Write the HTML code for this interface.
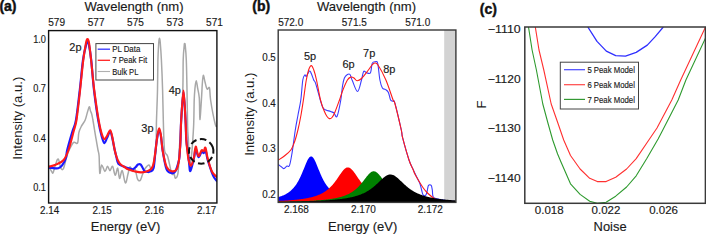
<!DOCTYPE html>
<html><head><meta charset="utf-8"><style>
html,body{margin:0;padding:0;background:#fff;width:706px;height:234px;overflow:hidden}
svg{display:block;font-family:"Liberation Sans", sans-serif}
</style></head><body>
<svg width="706" height="234" viewBox="0 0 706 234">
<text x="-0.6" y="10.9" font-size="14" text-anchor="start" font-weight="bold" fill="#111" stroke="#111" stroke-width="0.45" >(a)</text>
<text x="134" y="11.2" font-size="13" text-anchor="middle" font-weight="normal" fill="#1a1a1a" textLength="99" lengthAdjust="spacingAndGlyphs" stroke="#1a1a1a" stroke-width="0.15" >Wavelength (nm)</text>
<text x="56.6" y="26.1" font-size="10" text-anchor="middle" font-weight="normal" fill="#1a1a1a" textLength="16.8" lengthAdjust="spacingAndGlyphs" stroke="#1a1a1a" stroke-width="0.15" >579</text>
<text x="96.1" y="26.1" font-size="10" text-anchor="middle" font-weight="normal" fill="#1a1a1a" textLength="16.8" lengthAdjust="spacingAndGlyphs" stroke="#1a1a1a" stroke-width="0.15" >577</text>
<text x="135.5" y="26.1" font-size="10" text-anchor="middle" font-weight="normal" fill="#1a1a1a" textLength="16.8" lengthAdjust="spacingAndGlyphs" stroke="#1a1a1a" stroke-width="0.15" >575</text>
<text x="175" y="26.1" font-size="10" text-anchor="middle" font-weight="normal" fill="#1a1a1a" textLength="16.8" lengthAdjust="spacingAndGlyphs" stroke="#1a1a1a" stroke-width="0.15" >573</text>
<text x="214.5" y="26.1" font-size="10" text-anchor="middle" font-weight="normal" fill="#1a1a1a" textLength="16.8" lengthAdjust="spacingAndGlyphs" stroke="#1a1a1a" stroke-width="0.15" >571</text>
<text x="46" y="42.6" font-size="10" text-anchor="end" font-weight="normal" fill="#1a1a1a" textLength="12.8" lengthAdjust="spacingAndGlyphs" stroke="#1a1a1a" stroke-width="0.15" >1.0</text>
<text x="46" y="92.19999999999999" font-size="10" text-anchor="end" font-weight="normal" fill="#1a1a1a" textLength="12.8" lengthAdjust="spacingAndGlyphs" stroke="#1a1a1a" stroke-width="0.15" >0.7</text>
<text x="46" y="141.79999999999998" font-size="10" text-anchor="end" font-weight="normal" fill="#1a1a1a" textLength="12.8" lengthAdjust="spacingAndGlyphs" stroke="#1a1a1a" stroke-width="0.15" >0.4</text>
<text x="46" y="191.4" font-size="10" text-anchor="end" font-weight="normal" fill="#1a1a1a" textLength="12.8" lengthAdjust="spacingAndGlyphs" stroke="#1a1a1a" stroke-width="0.15" >0.1</text>
<text x="49.7" y="213.8" font-size="10" text-anchor="middle" font-weight="normal" fill="#1a1a1a" textLength="19.2" lengthAdjust="spacingAndGlyphs" stroke="#1a1a1a" stroke-width="0.15" >2.14</text>
<text x="102.2" y="213.8" font-size="10" text-anchor="middle" font-weight="normal" fill="#1a1a1a" textLength="19.2" lengthAdjust="spacingAndGlyphs" stroke="#1a1a1a" stroke-width="0.15" >2.15</text>
<text x="154.3" y="213.8" font-size="10" text-anchor="middle" font-weight="normal" fill="#1a1a1a" textLength="19.2" lengthAdjust="spacingAndGlyphs" stroke="#1a1a1a" stroke-width="0.15" >2.16</text>
<text x="206.7" y="213.8" font-size="10" text-anchor="middle" font-weight="normal" fill="#1a1a1a" textLength="19.2" lengthAdjust="spacingAndGlyphs" stroke="#1a1a1a" stroke-width="0.15" >2.17</text>
<text x="125.6" y="231.3" font-size="13" text-anchor="middle" font-weight="normal" fill="#1a1a1a" textLength="69.5" lengthAdjust="spacingAndGlyphs" stroke="#1a1a1a" stroke-width="0.15" >Energy (eV)</text>
<text x="0" y="0" font-size="13" text-anchor="middle" fill="#1a1a1a" textLength="83" lengthAdjust="spacingAndGlyphs" transform="translate(22.2,118.2) rotate(-90)">Intensity (a.u.)</text>
<clipPath id="ca"><rect x="48.6" y="30.6" width="168.3" height="172.4"/></clipPath>
<g clip-path="url(#ca)" fill="none" stroke-linejoin="round" stroke-linecap="round">
<path d="M48.5,165.4 C49.0,166.5 51.0,170.6 51.8,171.8 C52.6,173.0 52.5,173.9 53.1,172.6 C53.8,171.3 54.8,166.4 55.7,164.1 C56.6,161.8 57.4,158.3 58.3,159.0 C59.1,159.7 59.9,166.4 60.8,168.0 C61.6,169.6 62.4,170.4 63.4,168.6 C64.4,166.8 65.6,160.1 66.6,157.0 C67.6,153.9 68.0,152.4 69.2,150.0 C70.4,147.6 72.2,143.6 73.6,142.4 C75.0,141.2 76.6,144.7 77.5,143.1 C78.4,141.5 78.2,135.6 78.8,132.8 C79.4,130.0 80.2,128.5 81.3,126.4 C82.4,124.3 84.2,122.4 85.2,120.0 C86.2,117.6 86.8,114.2 87.5,112.0 C88.2,109.8 88.8,106.9 89.3,106.7 C89.8,106.5 90.1,109.8 90.5,111.0 C90.9,112.2 91.2,112.2 91.6,113.7 C92.0,115.2 92.2,115.8 92.9,120.0 C93.7,124.2 95.2,134.2 96.1,139.2 C96.9,144.2 97.5,147.2 98.0,150.0 C98.5,152.8 98.8,152.1 99.1,156.0 C99.4,159.9 99.4,171.8 99.8,173.3 C100.2,174.8 100.8,165.3 101.7,165.0 C102.6,164.7 103.9,171.2 104.9,171.4 C105.9,171.6 106.7,166.4 107.5,166.3 C108.3,166.2 109.2,170.7 110.0,170.7 C110.8,170.7 111.7,165.6 112.6,166.3 C113.5,167.1 114.3,174.9 115.2,175.2 C116.1,175.5 117.0,167.7 117.7,168.2 C118.4,168.7 118.8,178.0 119.6,178.4 C120.3,178.8 121.2,169.9 122.2,170.7 C123.2,171.4 124.4,182.3 125.4,182.9 C126.4,183.5 127.2,176.7 128.0,174.0 C128.8,171.3 129.2,167.3 129.9,166.9 C130.7,166.5 131.7,171.1 132.5,171.4 C133.3,171.7 134.2,167.5 135.0,168.8 C135.8,170.1 136.7,177.2 137.6,179.1 C138.5,181.0 139.3,181.2 140.2,180.4 C141.0,179.6 141.8,176.0 142.7,174.0 C143.5,172.0 144.2,169.7 145.3,168.2 C146.4,166.7 148.0,164.7 149.1,165.0 C150.2,165.3 150.9,171.0 151.7,170.1 C152.5,169.2 153.3,163.2 154.0,159.8 C154.7,156.5 155.6,156.6 156.0,150.0 C156.4,143.4 156.2,130.0 156.5,120.0 C156.8,110.0 157.3,100.0 157.5,90.0 C157.7,80.0 157.7,68.0 157.9,60.0 C158.1,52.0 158.6,45.6 158.8,42.0 C159.1,38.4 159.2,38.3 159.4,38.3 C159.6,38.3 159.9,38.4 160.2,42.0 C160.5,45.6 161.0,52.0 161.4,60.0 C161.8,68.0 162.3,80.0 162.6,90.0 C162.9,100.0 163.0,110.0 163.3,120.0 C163.6,130.0 163.8,143.9 164.5,150.0 C165.2,156.1 166.5,152.6 167.7,156.4 C168.9,160.2 170.5,170.1 171.6,173.1 C172.7,176.1 173.6,173.6 174.2,174.4 C174.8,175.2 174.8,178.4 175.4,178.2 C176.0,178.0 177.3,177.8 178.0,173.1 C178.7,168.4 179.0,154.8 179.3,150.0 C179.6,145.2 179.3,148.7 179.6,144.5 C179.9,140.3 180.5,134.1 181.0,125.0 C181.5,115.9 182.4,100.8 182.8,90.0 C183.2,79.2 183.0,67.3 183.2,60.0 C183.4,52.7 183.9,48.8 184.2,46.0 C184.4,43.2 184.5,43.5 184.7,43.5 C184.9,43.5 185.0,43.2 185.3,46.0 C185.6,48.8 186.0,52.7 186.3,60.0 C186.6,67.3 186.8,79.0 187.0,90.0 C187.2,101.0 187.4,117.7 187.6,126.0 C187.8,134.3 188.2,135.2 188.4,140.0 C188.6,144.8 188.7,151.2 189.0,155.0 C189.3,158.8 189.6,162.5 190.0,163.0 C190.4,163.5 190.8,160.5 191.2,158.0 C191.6,155.5 191.8,153.7 192.2,148.0 C192.6,142.3 193.4,132.0 193.7,124.0 C194.0,116.0 194.0,106.0 194.2,100.0 C194.4,94.0 194.7,91.2 195.0,88.0 C195.3,84.8 195.9,80.8 196.3,80.8 C196.7,80.8 197.1,85.1 197.6,88.0 C198.1,90.9 198.9,92.8 199.3,98.0 C199.7,103.2 199.6,119.2 199.9,119.5 C200.2,119.8 201.0,105.9 201.4,100.0 C201.8,94.1 202.0,88.1 202.3,84.0 C202.6,79.9 202.9,75.7 203.3,75.4 C203.8,75.1 204.4,79.7 205.0,82.0 C205.6,84.3 206.3,88.1 207.1,89.1 C207.8,90.1 208.9,86.1 209.5,87.9 C210.1,89.7 209.7,94.0 210.6,100.0 C211.5,106.0 214.1,119.7 215.2,124.0 C216.2,128.3 216.6,125.7 216.9,126.0" stroke="#a8a8a8" stroke-width="1.5"/>
<path d="M48.5,167.5 C49.1,167.6 50.4,167.9 52.0,168.0 C53.6,168.1 56.6,168.6 58.3,168.2 C60.0,167.8 60.8,167.2 62.1,165.4 C63.4,163.7 65.2,160.3 66.0,157.7 C66.8,155.1 66.1,154.4 67.2,150.0 C68.3,145.6 70.9,136.5 72.4,131.5 C73.9,126.5 74.8,126.9 76.0,120.0 C77.2,113.1 78.6,100.0 79.8,90.0 C81.0,80.0 81.9,67.7 83.0,60.0 C84.1,52.3 85.5,47.2 86.3,44.0 C87.1,40.8 87.2,41.0 87.6,41.0 C88.0,41.0 88.2,40.8 88.8,44.0 C89.4,47.2 90.3,52.3 91.2,60.0 C92.1,67.7 92.8,80.0 94.0,90.0 C95.2,100.0 96.9,112.3 98.2,120.0 C99.5,127.7 100.6,132.2 101.6,136.0 C102.6,139.8 103.5,142.8 104.4,143.1 C105.3,143.4 106.0,139.9 107.0,138.0 C108.0,136.1 109.3,131.3 110.2,131.5 C111.1,131.7 111.8,135.9 112.5,139.0 C113.2,142.1 114.0,147.0 114.7,150.0 C115.4,153.0 115.8,154.7 116.4,157.0 C117.0,159.3 117.0,162.0 118.4,163.7 C119.8,165.3 122.7,166.1 124.8,166.9 C126.9,167.8 129.8,168.4 131.2,168.8 C132.6,169.2 132.2,169.7 133.0,169.4 C133.8,169.1 135.0,167.8 135.8,167.0 C136.6,166.2 137.2,165.0 138.0,164.6 C138.8,164.2 139.8,163.9 140.5,164.4 C141.2,164.9 141.8,166.4 142.5,167.5 C143.2,168.6 143.6,170.2 144.5,171.0 C145.4,171.8 146.8,171.9 147.8,172.0 C148.8,172.1 149.4,172.1 150.4,171.4 C151.4,170.7 152.7,171.6 153.6,168.0 C154.5,164.4 154.9,155.3 155.6,150.0 C156.2,144.7 156.9,139.3 157.5,136.0 C158.1,132.7 158.6,130.0 159.2,130.0 C159.8,130.0 160.3,132.7 160.9,136.0 C161.5,139.3 161.7,144.5 162.6,150.0 C163.5,155.5 165.0,165.3 166.5,169.2 C168.0,173.0 170.1,172.8 171.6,173.1 C173.1,173.4 174.2,173.4 175.4,171.2 C176.6,169.0 178.2,163.5 179.0,160.0 C179.8,156.5 179.7,153.3 179.9,150.0 C180.2,146.7 180.3,145.0 180.5,140.0 C180.7,135.0 180.7,128.0 181.2,120.0 C181.7,112.0 182.8,92.0 183.5,92.0 C184.2,92.0 185.0,112.0 185.5,120.0 C186.0,128.0 185.9,134.7 186.3,140.0 C186.7,145.3 187.4,148.3 187.8,152.0 C188.2,155.7 188.6,158.8 189.0,162.0 C189.4,165.2 189.6,171.7 190.4,171.0 C191.2,170.3 193.1,161.7 194.0,158.0 C194.9,154.3 194.9,149.2 195.7,149.0 C196.4,148.8 197.5,156.5 198.5,157.0 C199.5,157.5 200.7,152.7 201.6,152.0 C202.5,151.3 203.2,153.3 203.8,153.0 C204.5,152.7 204.8,148.8 205.5,150.0 C206.2,151.2 206.6,156.2 207.7,160.0 C208.8,163.8 210.8,169.5 211.9,172.5 C213.0,175.5 213.5,176.4 214.3,177.8 C215.1,179.2 216.5,180.5 216.9,181.0" stroke="#1a1aff" stroke-width="2.2"/>
<path d="M48.5,166.7 C49.7,166.4 53.2,165.8 55.7,164.7 C58.2,163.6 61.3,162.8 63.4,160.3 C65.5,157.9 66.8,154.8 68.5,150.0 C70.2,145.2 72.3,136.5 73.6,131.5 C74.9,126.5 75.4,126.9 76.5,120.0 C77.6,113.1 79.0,100.0 80.1,90.0 C81.2,80.0 82.3,67.7 83.3,60.0 C84.2,52.3 85.2,47.4 85.8,44.0 C86.4,40.6 86.5,40.6 86.8,39.8 C87.1,39.0 87.3,39.0 87.5,39.0 C87.7,39.0 87.9,39.0 88.2,39.8 C88.5,40.6 88.7,40.6 89.2,44.0 C89.7,47.4 90.3,52.3 91.1,60.0 C91.9,67.7 93.0,80.0 94.2,90.0 C95.5,100.0 97.3,112.7 98.6,120.0 C99.9,127.3 100.8,130.9 101.8,134.1 C102.8,137.3 103.5,138.9 104.4,139.2 C105.3,139.5 106.0,137.5 107.0,136.0 C108.0,134.5 109.3,130.0 110.2,130.3 C111.1,130.6 111.8,134.7 112.5,138.0 C113.2,141.3 114.0,146.8 114.7,150.0 C115.4,153.2 116.0,155.1 116.6,157.0 C117.2,158.9 117.8,160.2 118.5,161.5 C119.2,162.8 120.0,163.9 121.0,164.8 C122.0,165.7 123.3,166.3 124.5,167.0 C125.7,167.7 126.2,168.5 128.0,169.2 C129.8,169.9 132.8,170.9 135.0,171.4 C137.2,171.9 139.3,172.5 141.4,172.4 C143.5,172.3 146.1,171.7 147.8,171.0 C149.5,170.3 150.5,169.8 151.5,168.5 C152.5,167.2 152.9,166.6 153.6,163.5 C154.3,160.4 154.9,154.8 155.6,150.0 C156.2,145.2 156.9,138.6 157.5,135.0 C158.1,131.4 158.6,128.3 159.2,128.3 C159.8,128.3 160.3,131.4 160.9,135.0 C161.5,138.6 161.7,144.7 162.6,150.0 C163.5,155.3 165.0,163.2 166.5,166.7 C168.0,170.2 169.9,170.8 171.6,171.2 C173.3,171.6 175.5,171.1 176.7,169.2 C177.9,167.3 178.5,163.2 179.0,160.0 C179.5,156.8 179.7,153.3 179.9,150.0 C180.2,146.7 180.3,145.0 180.5,140.0 C180.7,135.0 180.7,128.2 181.2,120.0 C181.7,111.8 182.8,90.5 183.5,90.5 C184.2,90.5 185.0,111.8 185.5,120.0 C186.0,128.2 186.0,134.7 186.3,140.0 C186.6,145.3 187.1,148.7 187.5,152.0 C187.9,155.3 188.0,157.7 188.6,160.0 C189.2,162.3 190.1,166.1 191.0,165.6 C191.9,165.1 193.2,160.4 194.0,157.2 C194.8,154.0 194.9,146.7 195.7,146.5 C196.4,146.3 197.5,155.4 198.5,156.0 C199.5,156.6 200.7,151.1 201.6,150.3 C202.5,149.5 203.2,151.5 203.8,151.1 C204.5,150.7 204.8,146.5 205.5,147.7 C206.2,148.9 206.6,154.4 207.7,158.4 C208.8,162.4 210.4,168.4 211.9,171.5 C213.4,174.6 216.1,176.2 216.9,177.2" stroke="#ff1a1a" stroke-width="2.1"/>
</g>
<circle cx="201.2" cy="151.4" r="12.3" fill="none" stroke="#111" stroke-width="2" stroke-dasharray="6.5,3.6" transform="rotate(-20 201.2 151.4)"/>
<rect x="95.9" y="43.6" width="57.6" height="36.4" fill="#fff" stroke="#444" stroke-width="1"/>
<line x1="97.7" y1="49.2" x2="110" y2="49.2" stroke="#3333ff" stroke-width="1.3"/>
<line x1="97.7" y1="60.3" x2="110" y2="60.3" stroke="#ff2222" stroke-width="1.3"/>
<line x1="97.7" y1="71.5" x2="110" y2="71.5" stroke="#b0b0b0" stroke-width="1.1"/>
<text x="112.2" y="52.1" font-size="8.6" text-anchor="start" font-weight="normal" fill="#1a1a1a" textLength="28.1" lengthAdjust="spacingAndGlyphs" stroke="#1a1a1a" stroke-width="0.15" >PL Data</text>
<text x="112.2" y="63.3" font-size="8.6" text-anchor="start" font-weight="normal" fill="#1a1a1a" textLength="35" lengthAdjust="spacingAndGlyphs" stroke="#1a1a1a" stroke-width="0.15" >7 Peak Fit</text>
<text x="112.2" y="74.5" font-size="8.6" text-anchor="start" font-weight="normal" fill="#1a1a1a" textLength="26.2" lengthAdjust="spacingAndGlyphs" stroke="#1a1a1a" stroke-width="0.15" >Bulk PL</text>
<text x="75.4" y="51.0" font-size="10.3" text-anchor="middle" font-weight="normal" fill="#1a1a1a" textLength="12.2" lengthAdjust="spacingAndGlyphs" stroke="#1a1a1a" stroke-width="0.15" >2p</text>
<text x="147.4" y="132.0" font-size="10.3" text-anchor="middle" font-weight="normal" fill="#1a1a1a" textLength="12.2" lengthAdjust="spacingAndGlyphs" stroke="#1a1a1a" stroke-width="0.15" >3p</text>
<text x="174.8" y="93.6" font-size="10.3" text-anchor="middle" font-weight="normal" fill="#1a1a1a" textLength="12.2" lengthAdjust="spacingAndGlyphs" stroke="#1a1a1a" stroke-width="0.15" >4p</text>
<rect x="48.6" y="30.6" width="168.3" height="172.4" fill="none" stroke="#111" stroke-width="1.4"/>
<text x="252.3" y="10.9" font-size="14" text-anchor="start" font-weight="bold" fill="#111" stroke="#111" stroke-width="0.45" >(b)</text>
<text x="366.5" y="11.2" font-size="13" text-anchor="middle" font-weight="normal" fill="#1a1a1a" textLength="99" lengthAdjust="spacingAndGlyphs" stroke="#1a1a1a" stroke-width="0.15" >Wavelength (nm)</text>
<text x="290.7" y="25.8" font-size="10" text-anchor="middle" font-weight="normal" fill="#1a1a1a" textLength="25" lengthAdjust="spacingAndGlyphs" stroke="#1a1a1a" stroke-width="0.15" >572.0</text>
<text x="354.3" y="25.8" font-size="10" text-anchor="middle" font-weight="normal" fill="#1a1a1a" textLength="25" lengthAdjust="spacingAndGlyphs" stroke="#1a1a1a" stroke-width="0.15" >571.5</text>
<text x="417.7" y="25.8" font-size="10" text-anchor="middle" font-weight="normal" fill="#1a1a1a" textLength="25" lengthAdjust="spacingAndGlyphs" stroke="#1a1a1a" stroke-width="0.15" >571.0</text>
<text x="275.8" y="60.6" font-size="10" text-anchor="end" font-weight="normal" fill="#1a1a1a" textLength="13.6" lengthAdjust="spacingAndGlyphs" stroke="#1a1a1a" stroke-width="0.15" >0.5</text>
<text x="275.8" y="106.6" font-size="10" text-anchor="end" font-weight="normal" fill="#1a1a1a" textLength="13.6" lengthAdjust="spacingAndGlyphs" stroke="#1a1a1a" stroke-width="0.15" >0.4</text>
<text x="275.8" y="151.9" font-size="10" text-anchor="end" font-weight="normal" fill="#1a1a1a" textLength="13.6" lengthAdjust="spacingAndGlyphs" stroke="#1a1a1a" stroke-width="0.15" >0.3</text>
<text x="275.8" y="198.0" font-size="10" text-anchor="end" font-weight="normal" fill="#1a1a1a" textLength="13.6" lengthAdjust="spacingAndGlyphs" stroke="#1a1a1a" stroke-width="0.15" >0.2</text>
<text x="296.4" y="212.6" font-size="10" text-anchor="middle" font-weight="normal" fill="#1a1a1a" textLength="25" lengthAdjust="spacingAndGlyphs" stroke="#1a1a1a" stroke-width="0.15" >2.168</text>
<text x="363.4" y="212.6" font-size="10" text-anchor="middle" font-weight="normal" fill="#1a1a1a" textLength="25" lengthAdjust="spacingAndGlyphs" stroke="#1a1a1a" stroke-width="0.15" >2.170</text>
<text x="430.3" y="212.6" font-size="10" text-anchor="middle" font-weight="normal" fill="#1a1a1a" textLength="25" lengthAdjust="spacingAndGlyphs" stroke="#1a1a1a" stroke-width="0.15" >2.172</text>
<text x="362.7" y="230.8" font-size="13" text-anchor="middle" font-weight="normal" fill="#1a1a1a" textLength="69.3" lengthAdjust="spacingAndGlyphs" stroke="#1a1a1a" stroke-width="0.15" >Energy (eV)</text>
<text x="0" y="0" font-size="13" text-anchor="middle" fill="#1a1a1a" textLength="83.3" lengthAdjust="spacingAndGlyphs" transform="translate(254.1,114.2) rotate(-90)">Intensity (a.u.)</text>
<clipPath id="cb"><rect x="278.2" y="30.0" width="177.7" height="172.4"/></clipPath>
<g clip-path="url(#cb)">
<rect x="444.2" y="30.0" width="11.699999999999989" height="172.4" fill="#d3d3d3"/>
<path d="M278.0,164.1 C278.5,164.5 280.0,165.8 281.0,166.5 C282.0,167.2 282.8,168.7 283.8,168.6 C284.8,168.5 286.1,166.5 287.0,166.0 C287.9,165.5 288.6,167.6 289.5,165.4 C290.4,163.2 291.1,158.5 292.1,152.6 C293.1,146.7 294.3,136.3 295.3,130.0 C296.3,123.7 297.1,120.0 298.0,115.0 C298.9,110.0 300.0,105.8 300.8,100.0 C301.6,94.2 302.1,84.2 302.8,80.0 C303.5,75.8 304.3,75.6 304.9,75.0 C305.5,74.4 305.5,77.0 306.3,76.3 C307.1,75.6 308.6,71.5 309.5,71.1 C310.4,70.7 310.8,72.5 311.5,74.0 C312.2,75.5 313.0,78.4 313.7,80.0 C314.4,81.6 314.5,80.1 315.6,83.4 C316.7,86.7 319.1,96.0 320.3,100.0 C321.5,104.0 321.9,106.0 322.9,107.7 C323.8,109.4 324.7,109.4 326.0,110.0 C327.3,110.6 329.3,111.0 330.6,111.5 C331.9,112.0 332.7,112.0 333.8,112.8 C334.9,113.6 335.8,118.5 337.0,116.4 C338.2,114.3 339.9,105.1 340.8,100.0 C341.7,94.9 341.9,89.7 342.5,86.0 C343.1,82.3 343.6,79.9 344.4,78.0 C345.2,76.1 346.5,75.1 347.4,74.5 C348.3,73.9 349.2,73.6 350.0,74.5 C350.8,75.4 350.9,77.2 352.1,80.0 C353.4,82.8 355.9,91.5 357.5,91.5 C359.1,91.5 360.5,83.3 361.5,80.0 C362.5,76.7 362.8,72.7 363.6,71.5 C364.5,70.3 365.5,72.6 366.6,72.8 C367.8,73.0 369.6,74.4 370.5,72.8 C371.4,71.2 371.4,65.2 372.2,63.4 C373.0,61.5 374.3,61.7 375.2,61.7 C376.1,61.7 376.9,60.4 377.7,63.4 C378.5,66.5 379.1,75.9 379.9,80.0 C380.7,84.1 381.5,86.5 382.4,88.1 C383.3,89.7 384.4,88.7 385.4,89.4 C386.4,90.1 387.5,90.6 388.4,92.4 C389.3,94.2 389.8,98.5 390.6,100.0 C391.4,101.5 392.3,100.8 393.0,101.3 C393.7,101.8 393.5,98.4 394.9,103.2 C396.3,108.0 400.0,124.2 401.3,130.0 C402.6,135.8 401.3,132.7 402.6,137.7 C403.9,142.7 407.3,154.8 409.0,160.0 C410.7,165.2 411.7,166.3 412.9,169.0 C414.1,171.7 415.0,173.6 416.2,176.0 C417.4,178.4 418.9,180.9 419.8,183.2 C420.7,185.5 421.0,188.0 421.6,190.0 C422.2,192.0 422.5,194.3 423.2,195.2 C423.9,196.1 425.1,196.1 425.8,195.2 C426.5,194.3 426.9,191.7 427.4,190.0 C427.8,188.3 427.9,186.1 428.5,185.3 C429.1,184.5 430.6,184.5 431.2,185.3 C431.8,186.1 432.0,188.3 432.3,190.0 C432.6,191.7 432.4,194.1 432.8,195.5 C433.2,196.9 432.8,197.5 435.0,198.3 C437.2,199.1 442.5,200.0 446.0,200.5 C449.5,201.0 454.3,201.3 456.0,201.5" fill="none" stroke="#3a3aff" stroke-width="1.1" stroke-linejoin="round"/>
<path d="M278.0,160.3 C279.2,159.5 282.9,157.2 285.0,155.5 C287.1,153.8 289.2,152.2 290.8,150.0 C292.4,147.8 293.3,145.3 294.5,142.0 C295.7,138.7 296.8,134.5 297.9,130.0 C299.0,125.5 300.1,120.0 301.0,115.0 C301.9,110.0 302.5,105.8 303.4,100.0 C304.3,94.2 305.4,85.0 306.3,80.0 C307.2,75.0 307.8,72.4 308.6,70.0 C309.4,67.6 310.4,65.6 311.3,65.6 C312.2,65.6 312.9,67.6 313.8,70.0 C314.7,72.4 315.4,75.0 316.5,80.0 C317.6,85.0 319.2,94.9 320.5,100.0 C321.8,105.1 322.9,107.8 324.0,110.5 C325.1,113.2 326.1,115.2 327.0,116.5 C327.9,117.8 328.5,118.4 329.3,118.6 C330.1,118.8 331.1,118.6 332.0,117.5 C332.9,116.4 333.8,114.9 335.0,112.0 C336.2,109.1 338.2,103.5 339.5,100.0 C340.8,96.5 341.2,94.3 342.5,91.0 C343.8,87.7 346.0,82.3 347.4,80.0 C348.8,77.7 349.7,77.4 350.8,77.1 C351.9,76.8 353.0,77.4 354.0,78.0 C355.0,78.6 355.8,80.7 357.0,80.8 C358.2,80.9 359.7,80.2 361.5,78.5 C363.3,76.8 366.2,72.8 368.0,70.5 C369.8,68.2 370.9,66.2 372.0,65.0 C373.1,63.8 373.8,63.0 374.8,63.0 C375.8,63.0 376.1,62.2 378.0,65.0 C379.9,67.8 383.4,74.2 385.9,80.0 C388.4,85.8 391.6,96.1 393.1,100.0 C394.6,103.9 393.5,98.5 394.9,103.5 C396.3,108.5 400.0,124.3 401.3,130.0 C402.6,135.7 401.3,132.7 402.6,137.7 C403.9,142.7 407.3,154.8 409.0,160.0 C410.7,165.2 411.8,166.5 412.9,169.0 C414.0,171.5 413.7,171.9 415.4,175.0 C417.1,178.1 421.0,184.7 423.1,187.8 C425.2,190.9 426.1,191.7 428.0,193.5 C429.9,195.3 432.7,197.5 434.7,198.7 C436.7,199.9 436.4,200.0 440.0,200.5 C443.6,201.0 453.3,201.6 456.0,201.8" fill="none" stroke="#ff1a1a" stroke-width="1.1" stroke-linejoin="round"/>
<path d="M276.2,207.6 L276.20,197.72 L276.70,197.59 L277.20,197.46 L277.70,197.32 L278.20,197.18 L278.70,197.03 L279.20,196.87 L279.70,196.71 L280.20,196.55 L280.70,196.37 L281.20,196.19 L281.70,196.00 L282.20,195.81 L282.70,195.60 L283.20,195.39 L283.70,195.16 L284.20,194.93 L284.70,194.69 L285.20,194.44 L285.70,194.17 L286.20,193.89 L286.70,193.60 L287.20,193.30 L287.70,192.98 L288.20,192.65 L288.70,192.30 L289.20,191.93 L289.70,191.55 L290.20,191.15 L290.70,190.72 L291.20,190.28 L291.70,189.82 L292.20,189.33 L292.70,188.81 L293.20,188.27 L293.70,187.71 L294.20,187.11 L294.70,186.49 L295.20,185.83 L295.70,185.15 L296.20,184.42 L296.70,183.67 L297.20,182.87 L297.70,182.04 L298.20,181.17 L298.70,180.26 L299.20,179.31 L299.70,178.32 L300.20,177.29 L300.70,176.22 L301.20,175.11 L301.70,173.97 L302.20,172.79 L302.70,171.59 L303.20,170.37 L303.70,169.13 L304.20,167.88 L304.70,166.63 L305.20,165.39 L305.70,164.18 L306.20,163.00 L306.70,161.88 L307.20,160.81 L307.70,159.83 L308.20,158.95 L308.70,158.18 L309.20,157.53 L309.70,157.02 L310.20,156.66 L310.70,156.45 L311.20,156.40 L311.70,156.52 L312.20,156.78 L312.70,157.21 L313.20,157.77 L313.70,158.47 L314.20,159.29 L314.70,160.21 L315.20,161.23 L315.70,162.32 L316.20,163.47 L316.70,164.66 L317.20,165.89 L317.70,167.13 L318.20,168.38 L318.70,169.63 L319.20,170.86 L319.70,172.08 L320.20,173.27 L320.70,174.43 L321.20,175.56 L321.70,176.65 L322.20,177.70 L322.70,178.72 L323.20,179.69 L323.70,180.63 L324.20,181.52 L324.70,182.38 L325.20,183.19 L325.70,183.97 L326.20,184.72 L326.70,185.43 L327.20,186.10 L327.70,186.74 L328.20,187.36 L328.70,187.94 L329.20,188.49 L329.70,189.02 L330.20,189.52 L330.70,190.00 L331.20,190.46 L331.70,190.89 L332.20,191.31 L332.70,191.70 L333.20,192.08 L333.70,192.44 L334.20,192.78 L334.70,193.11 L335.20,193.42 L335.70,193.72 L336.20,194.00 L336.70,194.28 L337.20,194.54 L337.70,194.79 L338.20,195.03 L338.70,195.26 L339.20,195.47 L339.70,195.68 L340.20,195.89 L340.70,196.08 L341.20,196.26 L341.70,196.44 L342.20,196.61 L342.70,196.78 L343.20,196.94 L343.70,197.09 L344.20,197.23 L344.70,197.37 L345.20,197.51 L345.70,197.64 L346.20,197.77 L346.70,197.89 L347.20,198.00 L347.70,198.12 L348.20,198.22 L348.70,198.33 L349.20,198.43 L349.70,198.53 L350.20,198.62 L350.70,198.71 L351.20,198.80 L351.70,198.89 L352.20,198.97 L352.70,199.05 L353.20,199.13 L353.70,199.20 L354.20,199.28 L354.70,199.35 L355.20,199.42 L355.70,199.48 L356.20,199.55 L356.70,199.61 L357.20,199.67 L357.70,199.73 L358.20,199.78 L358.70,199.84 L359.20,199.89 L359.70,199.95 L360.20,200.00 L360.70,200.05 L361.20,200.09 L361.70,200.14 L362.20,200.19 L362.70,200.23 L363.20,200.27 L363.70,200.31 L364.20,200.36 L364.70,200.39 L365.20,200.43 L365.70,200.47 L366.20,200.51 L366.70,200.54 L367.20,200.58 L367.70,200.61 L368.20,200.65 L368.70,200.68 L369.20,200.71 L369.70,200.74 L370.20,200.77 L370.70,200.80 L371.20,200.83 L371.70,200.86 L372.20,200.88 L372.70,200.91 L373.20,200.94 L373.70,200.96 L374.20,200.99 L374.70,201.01 L375.20,201.04 L375.70,201.06 L376.20,201.08 L376.70,201.10 L377.20,201.13 L377.70,201.15 L378.20,201.17 L378.70,201.19 L379.20,201.21 L379.70,201.23 L380.20,201.25 L380.70,201.27 L381.20,201.28 L381.70,201.30 L382.20,201.32 L382.70,201.34 L383.20,201.35 L383.70,201.37 L384.20,201.39 L384.70,201.40 L385.20,201.42 L385.70,201.43 L386.20,201.45 L386.70,201.46 L387.20,201.48 L387.70,201.49 L388.20,201.51 L388.70,201.52 L389.20,201.53 L389.70,201.55 L390.20,201.56 L390.70,201.57 L391.20,201.59 L391.70,201.60 L392.20,201.61 L392.70,201.62 L393.20,201.63 L393.70,201.65 L394.20,201.66 L394.70,201.67 L395.20,201.68 L395.70,201.69 L396.20,201.70 L396.70,201.71 L397.20,201.72 L397.70,201.73 L398.20,201.74 L398.70,201.75 L399.20,201.76 L399.70,201.77 L400.20,201.78 L400.70,201.79 L401.20,201.79 L401.70,201.80 L402.20,201.81 L402.70,201.82 L403.20,201.83 L403.70,201.84 L404.20,201.84 L404.70,201.85 L405.20,201.86 L405.70,201.87 L406.20,201.88 L406.70,201.88 L407.20,201.89 L407.70,201.90 L408.20,201.91 L408.70,201.91 L409.20,201.92 L409.70,201.93 L410.20,201.93 L410.70,201.94 L411.20,201.95 L411.70,201.95 L412.20,201.96 L412.70,201.96 L413.20,201.97 L413.70,201.98 L414.20,201.98 L414.70,201.99 L415.20,201.99 L415.70,202.00 L416.20,202.01 L416.70,202.01 L417.20,202.02 L417.70,202.02 L418.20,202.03 L418.70,202.03 L419.20,202.04 L419.70,202.04 L420.20,202.05 L420.70,202.05 L421.20,202.06 L421.70,202.06 L422.20,202.07 L422.70,202.07 L423.20,202.08 L423.70,202.08 L424.20,202.09 L424.70,202.09 L425.20,202.09 L425.70,202.10 L426.20,202.10 L426.70,202.11 L427.20,202.11 L427.70,202.12 L428.20,202.12 L428.70,202.12 L429.20,202.13 L429.70,202.13 L430.20,202.14 L430.70,202.14 L431.20,202.14 L431.70,202.15 L432.20,202.15 L432.70,202.15 L433.20,202.16 L433.70,202.16 L434.20,202.17 L434.70,202.17 L435.20,202.17 L435.70,202.18 L436.20,202.18 L436.70,202.18 L437.20,202.19 L437.70,202.19 L438.20,202.19 L438.70,202.19 L439.20,202.20 L439.70,202.20 L440.20,202.20 L440.70,202.21 L441.20,202.21 L441.70,202.21 L442.20,202.22 L442.70,202.22 L443.20,202.22 L443.70,202.22 L444.20,202.23 L444.70,202.23 L445.20,202.23 L445.70,202.24 L446.20,202.24 L446.70,202.24 L447.20,202.24 L447.70,202.25 L448.20,202.25 L448.70,202.25 L449.20,202.25 L449.70,202.26 L450.20,202.26 L450.70,202.26 L451.20,202.26 L451.70,202.27 L452.20,202.27 L452.70,202.27 L453.20,202.27 L453.70,202.28 L454.20,202.28 L454.70,202.28 L455.20,202.28 L455.70,202.28 L456.20,202.29 L456.70,202.29 L457.20,202.29 L457.70,202.29 L457.9,207.6 Z" fill="#0000ff"/>
<path d="M276.2,207.6 L276.20,201.03 L276.70,201.01 L277.20,200.99 L277.70,200.96 L278.20,200.94 L278.70,200.92 L279.20,200.89 L279.70,200.87 L280.20,200.85 L280.70,200.82 L281.20,200.80 L281.70,200.77 L282.20,200.74 L282.70,200.72 L283.20,200.69 L283.70,200.66 L284.20,200.63 L284.70,200.60 L285.20,200.57 L285.70,200.54 L286.20,200.51 L286.70,200.48 L287.20,200.45 L287.70,200.41 L288.20,200.38 L288.70,200.34 L289.20,200.31 L289.70,200.27 L290.20,200.23 L290.70,200.19 L291.20,200.15 L291.70,200.11 L292.20,200.07 L292.70,200.03 L293.20,199.98 L293.70,199.94 L294.20,199.89 L294.70,199.85 L295.20,199.80 L295.70,199.75 L296.20,199.70 L296.70,199.64 L297.20,199.59 L297.70,199.54 L298.20,199.48 L298.70,199.42 L299.20,199.36 L299.70,199.30 L300.20,199.24 L300.70,199.17 L301.20,199.11 L301.70,199.04 L302.20,198.97 L302.70,198.90 L303.20,198.82 L303.70,198.75 L304.20,198.67 L304.70,198.59 L305.20,198.50 L305.70,198.42 L306.20,198.33 L306.70,198.24 L307.20,198.14 L307.70,198.04 L308.20,197.94 L308.70,197.84 L309.20,197.73 L309.70,197.62 L310.20,197.51 L310.70,197.39 L311.20,197.27 L311.70,197.15 L312.20,197.02 L312.70,196.88 L313.20,196.74 L313.70,196.60 L314.20,196.45 L314.70,196.30 L315.20,196.14 L315.70,195.98 L316.20,195.81 L316.70,195.63 L317.20,195.45 L317.70,195.26 L318.20,195.07 L318.70,194.86 L319.20,194.65 L319.70,194.43 L320.20,194.21 L320.70,193.97 L321.20,193.73 L321.70,193.47 L322.20,193.21 L322.70,192.94 L323.20,192.65 L323.70,192.36 L324.20,192.05 L324.70,191.74 L325.20,191.41 L325.70,191.06 L326.20,190.71 L326.70,190.34 L327.20,189.95 L327.70,189.56 L328.20,189.14 L328.70,188.71 L329.20,188.26 L329.70,187.80 L330.20,187.32 L330.70,186.83 L331.20,186.31 L331.70,185.78 L332.20,185.23 L332.70,184.66 L333.20,184.07 L333.70,183.46 L334.20,182.84 L334.70,182.20 L335.20,181.54 L335.70,180.87 L336.20,180.18 L336.70,179.47 L337.20,178.76 L337.70,178.04 L338.20,177.31 L338.70,176.57 L339.20,175.83 L339.70,175.10 L340.20,174.37 L340.70,173.65 L341.20,172.94 L341.70,172.26 L342.20,171.59 L342.70,170.96 L343.20,170.36 L343.70,169.81 L344.20,169.30 L344.70,168.84 L345.20,168.44 L345.70,168.10 L346.20,167.82 L346.70,167.61 L347.20,167.47 L347.70,167.41 L348.20,167.41 L348.70,167.49 L349.20,167.65 L349.70,167.87 L350.20,168.16 L350.70,168.51 L351.20,168.93 L351.70,169.40 L352.20,169.92 L352.70,170.48 L353.20,171.08 L353.70,171.72 L354.20,172.39 L354.70,173.08 L355.20,173.79 L355.70,174.51 L356.20,175.24 L356.70,175.98 L357.20,176.72 L357.70,177.45 L358.20,178.18 L358.70,178.90 L359.20,179.62 L359.70,180.32 L360.20,181.00 L360.70,181.67 L361.20,182.33 L361.70,182.96 L362.20,183.58 L362.70,184.19 L363.20,184.77 L363.70,185.34 L364.20,185.88 L364.70,186.41 L365.20,186.93 L365.70,187.42 L366.20,187.90 L366.70,188.36 L367.20,188.80 L367.70,189.23 L368.20,189.64 L368.70,190.03 L369.20,190.41 L369.70,190.78 L370.20,191.13 L370.70,191.47 L371.20,191.80 L371.70,192.12 L372.20,192.42 L372.70,192.71 L373.20,192.99 L373.70,193.26 L374.20,193.53 L374.70,193.78 L375.20,194.02 L375.70,194.25 L376.20,194.48 L376.70,194.69 L377.20,194.90 L377.70,195.10 L378.20,195.30 L378.70,195.49 L379.20,195.67 L379.70,195.84 L380.20,196.01 L380.70,196.17 L381.20,196.33 L381.70,196.48 L382.20,196.63 L382.70,196.77 L383.20,196.91 L383.70,197.04 L384.20,197.17 L384.70,197.30 L385.20,197.42 L385.70,197.53 L386.20,197.65 L386.70,197.76 L387.20,197.86 L387.70,197.96 L388.20,198.06 L388.70,198.16 L389.20,198.25 L389.70,198.34 L390.20,198.43 L390.70,198.52 L391.20,198.60 L391.70,198.68 L392.20,198.76 L392.70,198.84 L393.20,198.91 L393.70,198.98 L394.20,199.05 L394.70,199.12 L395.20,199.19 L395.70,199.25 L396.20,199.31 L396.70,199.37 L397.20,199.43 L397.70,199.49 L398.20,199.55 L398.70,199.60 L399.20,199.66 L399.70,199.71 L400.20,199.76 L400.70,199.81 L401.20,199.86 L401.70,199.90 L402.20,199.95 L402.70,199.99 L403.20,200.04 L403.70,200.08 L404.20,200.12 L404.70,200.16 L405.20,200.20 L405.70,200.24 L406.20,200.28 L406.70,200.31 L407.20,200.35 L407.70,200.38 L408.20,200.42 L408.70,200.45 L409.20,200.48 L409.70,200.52 L410.20,200.55 L410.70,200.58 L411.20,200.61 L411.70,200.64 L412.20,200.67 L412.70,200.70 L413.20,200.72 L413.70,200.75 L414.20,200.78 L414.70,200.80 L415.20,200.83 L415.70,200.85 L416.20,200.88 L416.70,200.90 L417.20,200.92 L417.70,200.95 L418.20,200.97 L418.70,200.99 L419.20,201.01 L419.70,201.03 L420.20,201.05 L420.70,201.07 L421.20,201.09 L421.70,201.11 L422.20,201.13 L422.70,201.15 L423.20,201.17 L423.70,201.19 L424.20,201.20 L424.70,201.22 L425.20,201.24 L425.70,201.26 L426.20,201.27 L426.70,201.29 L427.20,201.30 L427.70,201.32 L428.20,201.34 L428.70,201.35 L429.20,201.37 L429.70,201.38 L430.20,201.39 L430.70,201.41 L431.20,201.42 L431.70,201.44 L432.20,201.45 L432.70,201.46 L433.20,201.47 L433.70,201.49 L434.20,201.50 L434.70,201.51 L435.20,201.52 L435.70,201.54 L436.20,201.55 L436.70,201.56 L437.20,201.57 L437.70,201.58 L438.20,201.59 L438.70,201.60 L439.20,201.61 L439.70,201.62 L440.20,201.63 L440.70,201.64 L441.20,201.65 L441.70,201.66 L442.20,201.67 L442.70,201.68 L443.20,201.69 L443.70,201.70 L444.20,201.71 L444.70,201.72 L445.20,201.73 L445.70,201.74 L446.20,201.75 L446.70,201.75 L447.20,201.76 L447.70,201.77 L448.20,201.78 L448.70,201.79 L449.20,201.79 L449.70,201.80 L450.20,201.81 L450.70,201.82 L451.20,201.82 L451.70,201.83 L452.20,201.84 L452.70,201.85 L453.20,201.85 L453.70,201.86 L454.20,201.87 L454.70,201.87 L455.20,201.88 L455.70,201.89 L456.20,201.89 L456.70,201.90 L457.20,201.91 L457.70,201.91 L457.9,207.6 Z" fill="#ff0000"/>
<path d="M276.2,207.6 L276.20,201.83 L276.70,201.82 L277.20,201.81 L277.70,201.80 L278.20,201.80 L278.70,201.79 L279.20,201.78 L279.70,201.77 L280.20,201.76 L280.70,201.75 L281.20,201.75 L281.70,201.74 L282.20,201.73 L282.70,201.72 L283.20,201.71 L283.70,201.70 L284.20,201.69 L284.70,201.68 L285.20,201.67 L285.70,201.66 L286.20,201.65 L286.70,201.64 L287.20,201.63 L287.70,201.62 L288.20,201.60 L288.70,201.59 L289.20,201.58 L289.70,201.57 L290.20,201.56 L290.70,201.55 L291.20,201.53 L291.70,201.52 L292.20,201.51 L292.70,201.49 L293.20,201.48 L293.70,201.47 L294.20,201.45 L294.70,201.44 L295.20,201.43 L295.70,201.41 L296.20,201.40 L296.70,201.38 L297.20,201.37 L297.70,201.35 L298.20,201.33 L298.70,201.32 L299.20,201.30 L299.70,201.28 L300.20,201.27 L300.70,201.25 L301.20,201.23 L301.70,201.21 L302.20,201.20 L302.70,201.18 L303.20,201.16 L303.70,201.14 L304.20,201.12 L304.70,201.10 L305.20,201.08 L305.70,201.05 L306.20,201.03 L306.70,201.01 L307.20,200.99 L307.70,200.96 L308.20,200.94 L308.70,200.92 L309.20,200.89 L309.70,200.87 L310.20,200.84 L310.70,200.81 L311.20,200.79 L311.70,200.76 L312.20,200.73 L312.70,200.70 L313.20,200.67 L313.70,200.64 L314.20,200.61 L314.70,200.58 L315.20,200.55 L315.70,200.51 L316.20,200.48 L316.70,200.44 L317.20,200.41 L317.70,200.37 L318.20,200.34 L318.70,200.30 L319.20,200.26 L319.70,200.22 L320.20,200.18 L320.70,200.13 L321.20,200.09 L321.70,200.05 L322.20,200.00 L322.70,199.95 L323.20,199.91 L323.70,199.86 L324.20,199.81 L324.70,199.75 L325.20,199.70 L325.70,199.64 L326.20,199.59 L326.70,199.53 L327.20,199.47 L327.70,199.41 L328.20,199.35 L328.70,199.28 L329.20,199.21 L329.70,199.14 L330.20,199.07 L330.70,199.00 L331.20,198.93 L331.70,198.85 L332.20,198.77 L332.70,198.69 L333.20,198.60 L333.70,198.51 L334.20,198.42 L334.70,198.33 L335.20,198.23 L335.70,198.14 L336.20,198.03 L336.70,197.93 L337.20,197.82 L337.70,197.71 L338.20,197.59 L338.70,197.47 L339.20,197.34 L339.70,197.21 L340.20,197.08 L340.70,196.94 L341.20,196.80 L341.70,196.65 L342.20,196.50 L342.70,196.34 L343.20,196.18 L343.70,196.01 L344.20,195.83 L344.70,195.65 L345.20,195.46 L345.70,195.26 L346.20,195.05 L346.70,194.84 L347.20,194.62 L347.70,194.39 L348.20,194.16 L348.70,193.91 L349.20,193.65 L349.70,193.39 L350.20,193.11 L350.70,192.82 L351.20,192.53 L351.70,192.22 L352.20,191.90 L352.70,191.56 L353.20,191.21 L353.70,190.85 L354.20,190.48 L354.70,190.09 L355.20,189.69 L355.70,189.27 L356.20,188.84 L356.70,188.39 L357.20,187.93 L357.70,187.45 L358.20,186.95 L358.70,186.44 L359.20,185.91 L359.70,185.36 L360.20,184.80 L360.70,184.23 L361.20,183.63 L361.70,183.03 L362.20,182.41 L362.70,181.78 L363.20,181.15 L363.70,180.50 L364.20,179.85 L364.70,179.19 L365.20,178.54 L365.70,177.88 L366.20,177.24 L366.70,176.60 L367.20,175.98 L367.70,175.38 L368.20,174.80 L368.70,174.25 L369.20,173.73 L369.70,173.25 L370.20,172.82 L370.70,172.43 L371.20,172.09 L371.70,171.81 L372.20,171.59 L372.70,171.43 L373.20,171.33 L373.70,171.30 L374.20,171.33 L374.70,171.43 L375.20,171.59 L375.70,171.81 L376.20,172.09 L376.70,172.43 L377.20,172.82 L377.70,173.25 L378.20,173.73 L378.70,174.25 L379.20,174.80 L379.70,175.38 L380.20,175.98 L380.70,176.60 L381.20,177.24 L381.70,177.88 L382.20,178.54 L382.70,179.19 L383.20,179.85 L383.70,180.50 L384.20,181.15 L384.70,181.78 L385.20,182.41 L385.70,183.03 L386.20,183.63 L386.70,184.23 L387.20,184.80 L387.70,185.36 L388.20,185.91 L388.70,186.44 L389.20,186.95 L389.70,187.45 L390.20,187.93 L390.70,188.39 L391.20,188.84 L391.70,189.27 L392.20,189.69 L392.70,190.09 L393.20,190.48 L393.70,190.85 L394.20,191.21 L394.70,191.56 L395.20,191.90 L395.70,192.22 L396.20,192.53 L396.70,192.82 L397.20,193.11 L397.70,193.39 L398.20,193.65 L398.70,193.91 L399.20,194.16 L399.70,194.39 L400.20,194.62 L400.70,194.84 L401.20,195.05 L401.70,195.26 L402.20,195.46 L402.70,195.65 L403.20,195.83 L403.70,196.01 L404.20,196.18 L404.70,196.34 L405.20,196.50 L405.70,196.65 L406.20,196.80 L406.70,196.94 L407.20,197.08 L407.70,197.21 L408.20,197.34 L408.70,197.47 L409.20,197.59 L409.70,197.71 L410.20,197.82 L410.70,197.93 L411.20,198.03 L411.70,198.14 L412.20,198.23 L412.70,198.33 L413.20,198.42 L413.70,198.51 L414.20,198.60 L414.70,198.69 L415.20,198.77 L415.70,198.85 L416.20,198.93 L416.70,199.00 L417.20,199.07 L417.70,199.14 L418.20,199.21 L418.70,199.28 L419.20,199.35 L419.70,199.41 L420.20,199.47 L420.70,199.53 L421.20,199.59 L421.70,199.64 L422.20,199.70 L422.70,199.75 L423.20,199.81 L423.70,199.86 L424.20,199.91 L424.70,199.95 L425.20,200.00 L425.70,200.05 L426.20,200.09 L426.70,200.13 L427.20,200.18 L427.70,200.22 L428.20,200.26 L428.70,200.30 L429.20,200.34 L429.70,200.37 L430.20,200.41 L430.70,200.44 L431.20,200.48 L431.70,200.51 L432.20,200.55 L432.70,200.58 L433.20,200.61 L433.70,200.64 L434.20,200.67 L434.70,200.70 L435.20,200.73 L435.70,200.76 L436.20,200.79 L436.70,200.81 L437.20,200.84 L437.70,200.87 L438.20,200.89 L438.70,200.92 L439.20,200.94 L439.70,200.96 L440.20,200.99 L440.70,201.01 L441.20,201.03 L441.70,201.05 L442.20,201.08 L442.70,201.10 L443.20,201.12 L443.70,201.14 L444.20,201.16 L444.70,201.18 L445.20,201.20 L445.70,201.21 L446.20,201.23 L446.70,201.25 L447.20,201.27 L447.70,201.28 L448.20,201.30 L448.70,201.32 L449.20,201.33 L449.70,201.35 L450.20,201.37 L450.70,201.38 L451.20,201.40 L451.70,201.41 L452.20,201.43 L452.70,201.44 L453.20,201.45 L453.70,201.47 L454.20,201.48 L454.70,201.49 L455.20,201.51 L455.70,201.52 L456.20,201.53 L456.70,201.55 L457.20,201.56 L457.70,201.57 L457.9,207.6 Z" fill="#008000"/>
<path d="M276.2,207.6 L276.20,201.84 L276.70,201.84 L277.20,201.83 L277.70,201.82 L278.20,201.82 L278.70,201.81 L279.20,201.80 L279.70,201.80 L280.20,201.79 L280.70,201.78 L281.20,201.77 L281.70,201.77 L282.20,201.76 L282.70,201.75 L283.20,201.74 L283.70,201.74 L284.20,201.73 L284.70,201.72 L285.20,201.71 L285.70,201.70 L286.20,201.70 L286.70,201.69 L287.20,201.68 L287.70,201.67 L288.20,201.66 L288.70,201.65 L289.20,201.64 L289.70,201.63 L290.20,201.62 L290.70,201.62 L291.20,201.61 L291.70,201.60 L292.20,201.59 L292.70,201.58 L293.20,201.57 L293.70,201.56 L294.20,201.55 L294.70,201.53 L295.20,201.52 L295.70,201.51 L296.20,201.50 L296.70,201.49 L297.20,201.48 L297.70,201.47 L298.20,201.46 L298.70,201.44 L299.20,201.43 L299.70,201.42 L300.20,201.41 L300.70,201.39 L301.20,201.38 L301.70,201.37 L302.20,201.35 L302.70,201.34 L303.20,201.33 L303.70,201.31 L304.20,201.30 L304.70,201.28 L305.20,201.27 L305.70,201.25 L306.20,201.24 L306.70,201.22 L307.20,201.21 L307.70,201.19 L308.20,201.17 L308.70,201.16 L309.20,201.14 L309.70,201.12 L310.20,201.11 L310.70,201.09 L311.20,201.07 L311.70,201.05 L312.20,201.03 L312.70,201.01 L313.20,201.00 L313.70,200.98 L314.20,200.96 L314.70,200.93 L315.20,200.91 L315.70,200.89 L316.20,200.87 L316.70,200.85 L317.20,200.83 L317.70,200.80 L318.20,200.78 L318.70,200.76 L319.20,200.73 L319.70,200.71 L320.20,200.68 L320.70,200.66 L321.20,200.63 L321.70,200.60 L322.20,200.58 L322.70,200.55 L323.20,200.52 L323.70,200.49 L324.20,200.46 L324.70,200.43 L325.20,200.40 L325.70,200.37 L326.20,200.34 L326.70,200.30 L327.20,200.27 L327.70,200.24 L328.20,200.20 L328.70,200.17 L329.20,200.13 L329.70,200.09 L330.20,200.05 L330.70,200.02 L331.20,199.98 L331.70,199.94 L332.20,199.89 L332.70,199.85 L333.20,199.81 L333.70,199.76 L334.20,199.72 L334.70,199.67 L335.20,199.62 L335.70,199.57 L336.20,199.52 L336.70,199.47 L337.20,199.42 L337.70,199.37 L338.20,199.31 L338.70,199.26 L339.20,199.20 L339.70,199.14 L340.20,199.08 L340.70,199.02 L341.20,198.95 L341.70,198.89 L342.20,198.82 L342.70,198.75 L343.20,198.68 L343.70,198.61 L344.20,198.53 L344.70,198.46 L345.20,198.38 L345.70,198.30 L346.20,198.22 L346.70,198.13 L347.20,198.05 L347.70,197.96 L348.20,197.86 L348.70,197.77 L349.20,197.67 L349.70,197.57 L350.20,197.47 L350.70,197.36 L351.20,197.25 L351.70,197.14 L352.20,197.03 L352.70,196.91 L353.20,196.79 L353.70,196.66 L354.20,196.53 L354.70,196.40 L355.20,196.26 L355.70,196.12 L356.20,195.97 L356.70,195.82 L357.20,195.67 L357.70,195.51 L358.20,195.34 L358.70,195.17 L359.20,195.00 L359.70,194.82 L360.20,194.63 L360.70,194.44 L361.20,194.24 L361.70,194.04 L362.20,193.83 L362.70,193.61 L363.20,193.39 L363.70,193.15 L364.20,192.92 L364.70,192.67 L365.20,192.42 L365.70,192.15 L366.20,191.88 L366.70,191.61 L367.20,191.32 L367.70,191.02 L368.20,190.72 L368.70,190.41 L369.20,190.08 L369.70,189.75 L370.20,189.41 L370.70,189.06 L371.20,188.70 L371.70,188.33 L372.20,187.95 L372.70,187.56 L373.20,187.16 L373.70,186.75 L374.20,186.33 L374.70,185.90 L375.20,185.47 L375.70,185.02 L376.20,184.57 L376.70,184.11 L377.20,183.65 L377.70,183.18 L378.20,182.70 L378.70,182.23 L379.20,181.75 L379.70,181.27 L380.20,180.79 L380.70,180.31 L381.20,179.84 L381.70,179.37 L382.20,178.91 L382.70,178.46 L383.20,178.03 L383.70,177.61 L384.20,177.20 L384.70,176.82 L385.20,176.46 L385.70,176.12 L386.20,175.81 L386.70,175.53 L387.20,175.28 L387.70,175.06 L388.20,174.87 L388.70,174.72 L389.20,174.61 L389.70,174.54 L390.20,174.50 L390.70,174.51 L391.20,174.55 L391.70,174.63 L392.20,174.75 L392.70,174.91 L393.20,175.10 L393.70,175.32 L394.20,175.58 L394.70,175.87 L395.20,176.19 L395.70,176.53 L396.20,176.90 L396.70,177.28 L397.20,177.69 L397.70,178.11 L398.20,178.55 L398.70,179.00 L399.20,179.46 L399.70,179.93 L400.20,180.40 L400.70,180.88 L401.20,181.36 L401.70,181.84 L402.20,182.32 L402.70,182.80 L403.20,183.27 L403.70,183.74 L404.20,184.20 L404.70,184.66 L405.20,185.11 L405.70,185.55 L406.20,185.99 L406.70,186.41 L407.20,186.83 L407.70,187.24 L408.20,187.63 L408.70,188.02 L409.20,188.40 L409.70,188.77 L410.20,189.13 L410.70,189.48 L411.20,189.82 L411.70,190.15 L412.20,190.47 L412.70,190.78 L413.20,191.08 L413.70,191.38 L414.20,191.66 L414.70,191.94 L415.20,192.21 L415.70,192.47 L416.20,192.72 L416.70,192.96 L417.20,193.20 L417.70,193.43 L418.20,193.65 L418.70,193.87 L419.20,194.08 L419.70,194.28 L420.20,194.48 L420.70,194.67 L421.20,194.85 L421.70,195.03 L422.20,195.21 L422.70,195.38 L423.20,195.54 L423.70,195.70 L424.20,195.85 L424.70,196.00 L425.20,196.15 L425.70,196.29 L426.20,196.42 L426.70,196.56 L427.20,196.69 L427.70,196.81 L428.20,196.93 L428.70,197.05 L429.20,197.17 L429.70,197.28 L430.20,197.38 L430.70,197.49 L431.20,197.59 L431.70,197.69 L432.20,197.79 L432.70,197.88 L433.20,197.97 L433.70,198.06 L434.20,198.15 L434.70,198.23 L435.20,198.32 L435.70,198.40 L436.20,198.47 L436.70,198.55 L437.20,198.62 L437.70,198.70 L438.20,198.77 L438.70,198.83 L439.20,198.90 L439.70,198.97 L440.20,199.03 L440.70,199.09 L441.20,199.15 L441.70,199.21 L442.20,199.27 L442.70,199.32 L443.20,199.38 L443.70,199.43 L444.20,199.48 L444.70,199.53 L445.20,199.58 L445.70,199.63 L446.20,199.68 L446.70,199.73 L447.20,199.77 L447.70,199.82 L448.20,199.86 L448.70,199.90 L449.20,199.94 L449.70,199.98 L450.20,200.02 L450.70,200.06 L451.20,200.10 L451.70,200.14 L452.20,200.17 L452.70,200.21 L453.20,200.24 L453.70,200.28 L454.20,200.31 L454.70,200.34 L455.20,200.38 L455.70,200.41 L456.20,200.44 L456.70,200.47 L457.20,200.50 L457.70,200.53 L457.9,207.6 Z" fill="#000000"/>
</g>
<text x="310" y="60.0" font-size="10.3" text-anchor="middle" font-weight="normal" fill="#1a1a1a" textLength="12.2" lengthAdjust="spacingAndGlyphs" stroke="#1a1a1a" stroke-width="0.15" >5p</text>
<text x="348.5" y="67.7" font-size="10.3" text-anchor="middle" font-weight="normal" fill="#1a1a1a" textLength="12.2" lengthAdjust="spacingAndGlyphs" stroke="#1a1a1a" stroke-width="0.15" >6p</text>
<text x="369.2" y="57.4" font-size="10.3" text-anchor="middle" font-weight="normal" fill="#1a1a1a" textLength="12.2" lengthAdjust="spacingAndGlyphs" stroke="#1a1a1a" stroke-width="0.15" >7p</text>
<text x="389.3" y="72.8" font-size="10.3" text-anchor="middle" font-weight="normal" fill="#1a1a1a" textLength="12.2" lengthAdjust="spacingAndGlyphs" stroke="#1a1a1a" stroke-width="0.15" >8p</text>
<rect x="278.2" y="30.0" width="177.7" height="172.4" fill="none" stroke="#383838" stroke-width="1.4"/>
<text x="479.8" y="13.6" font-size="14" text-anchor="start" font-weight="bold" fill="#111" stroke="#111" stroke-width="0.45" >(c)</text>
<text x="520.6" y="32.9" font-size="10.5" text-anchor="end" font-weight="normal" fill="#1a1a1a" textLength="32.8" lengthAdjust="spacingAndGlyphs" stroke="#1a1a1a" stroke-width="0.15" >−1110</text>
<text x="520.6" y="82.60000000000001" font-size="10.5" text-anchor="end" font-weight="normal" fill="#1a1a1a" textLength="32.8" lengthAdjust="spacingAndGlyphs" stroke="#1a1a1a" stroke-width="0.15" >−1120</text>
<text x="520.6" y="132.0" font-size="10.5" text-anchor="end" font-weight="normal" fill="#1a1a1a" textLength="32.8" lengthAdjust="spacingAndGlyphs" stroke="#1a1a1a" stroke-width="0.15" >−1130</text>
<text x="520.6" y="181.5" font-size="10.5" text-anchor="end" font-weight="normal" fill="#1a1a1a" textLength="32.8" lengthAdjust="spacingAndGlyphs" stroke="#1a1a1a" stroke-width="0.15" >−1140</text>
<text x="549.2" y="213.6" font-size="10.5" text-anchor="middle" font-weight="normal" fill="#1a1a1a" textLength="28.8" lengthAdjust="spacingAndGlyphs" stroke="#1a1a1a" stroke-width="0.15" >0.018</text>
<text x="606" y="213.6" font-size="10.5" text-anchor="middle" font-weight="normal" fill="#1a1a1a" textLength="28.8" lengthAdjust="spacingAndGlyphs" stroke="#1a1a1a" stroke-width="0.15" >0.022</text>
<text x="663.6" y="213.6" font-size="10.5" text-anchor="middle" font-weight="normal" fill="#1a1a1a" textLength="28.8" lengthAdjust="spacingAndGlyphs" stroke="#1a1a1a" stroke-width="0.15" >0.026</text>
<text x="610.1" y="230.9" font-size="13" text-anchor="middle" font-weight="normal" fill="#1a1a1a" textLength="33" lengthAdjust="spacingAndGlyphs" stroke="#1a1a1a" stroke-width="0.15" >Noise</text>
<text x="0" y="0" font-size="13" text-anchor="middle" fill="#1a1a1a" transform="translate(486.2,104.5) rotate(-90)">F</text>
<clipPath id="cc"><rect x="524.8" y="27.0" width="180.60000000000002" height="176.3"/></clipPath>
<g clip-path="url(#cc)" fill="none" stroke-width="1.1" stroke-linejoin="round">
<path d="M528.5,27.0 L532.1,50.0 L536.4,70.0 L542.8,104.0 L548.2,124.0 L552.7,140.0 L557.6,154.0 L561.2,162.5 L570.5,183.8 L580.1,194.4 L589.7,201.2 L597.3,203.4 L606.1,202.2 L615.7,196.2 L626.6,187.0 L636.2,175.8 L646.8,158.5 L658.1,139.0 L662.8,130.0 L678.2,100.0 L685.9,80.0 L706.5,36.0" stroke="#2e9a2e"/>
<path d="M535.3,27.0 L539.0,50.0 L543.8,70.0 L551.2,104.0 L558.2,124.0 L563.7,140.0 L570.5,155.5 L580.1,169.0 L589.7,178.3 L597.3,181.6 L606.1,181.6 L615.7,177.2 L626.6,169.0 L636.2,158.6 L648.5,140.5 L657.0,128.0 L671.8,100.0 L680.7,80.0 L705.6,26.8" stroke="#ff3030"/>
<path d="M587.8,27.0 L597.0,41.4 L606.3,51.1 L615.7,55.6 L625.5,56.1 L636.2,52.4 L647.3,45.1 L655.0,36.9 L663.3,27.0" stroke="#3030ff" stroke-width="1.3"/>
</g>
<rect x="560.3" y="62.2" width="78.2" height="46.8" fill="#fff" stroke="#444" stroke-width="1"/>
<line x1="564" y1="69.7" x2="585" y2="69.7" stroke="#4848ff" stroke-width="1.2"/>
<line x1="564" y1="84.7" x2="585" y2="84.7" stroke="#ff4848" stroke-width="1.2"/>
<line x1="564" y1="99.4" x2="585" y2="99.4" stroke="#339933" stroke-width="1.2"/>
<text x="587.4" y="73.1" font-size="9" text-anchor="start" font-weight="normal" fill="#1a1a1a" textLength="47.5" lengthAdjust="spacingAndGlyphs" stroke="#1a1a1a" stroke-width="0.15" >5 Peak Model</text>
<text x="587.4" y="87.9" font-size="9" text-anchor="start" font-weight="normal" fill="#1a1a1a" textLength="47.5" lengthAdjust="spacingAndGlyphs" stroke="#1a1a1a" stroke-width="0.15" >6 Peak Model</text>
<text x="587.4" y="102.7" font-size="9" text-anchor="start" font-weight="normal" fill="#1a1a1a" textLength="47.5" lengthAdjust="spacingAndGlyphs" stroke="#1a1a1a" stroke-width="0.15" >7 Peak Model</text>
<rect x="524.8" y="27.0" width="180.60000000000002" height="176.3" fill="none" stroke="#3a3a3a" stroke-width="1.5"/>
</svg></body></html>
